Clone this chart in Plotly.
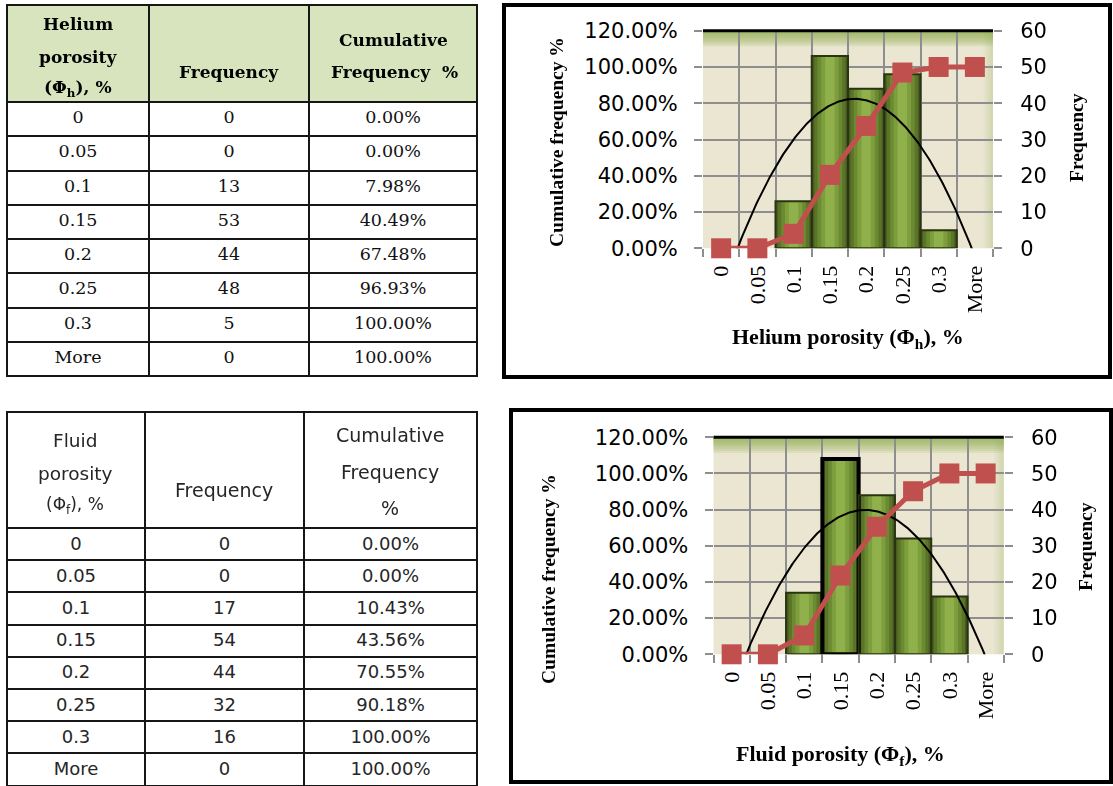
import numpy as np
import plotly.graph_objects as go

W, H = 1113, 786

# ---- data -------------------------------------------------------------
bins = ["0", "0.05", "0.1", "0.15", "0.2", "0.25", "0.3", "More"]
helium_freq = [0, 0, 13, 53, 44, 48, 5, 0]
helium_cum = [0.00, 0.00, 7.98, 40.49, 67.48, 96.93, 100.00, 100.00]
fluid_freq = [0, 0, 17, 54, 44, 32, 16, 0]
fluid_cum = [0.00, 0.00, 10.43, 43.56, 70.55, 90.18, 100.00, 100.00]

# ---- styling ----------------------------------------------------------
GRID = "#8E8E8E"
BORDER = "#161616"
RED = "#C0504D"
BAR_SHADES = [(1.0, "#4A5C21"), (0.86, "#5A7428"), (0.68, "#6B8A31"),
              (0.48, "#7D9E3C"), (0.26, "#8FB04B")]
BAR_EDGE = "#283510"
BG = "#EAE6D1"
TOP_GREEN = "#86AA45"
SANS = "DejaVu Sans"
SERIF = "Liberation Serif"


def fx(px):
    return px / W


def fy(py):
    return 1 - py / H


n = len(bins)
idx = list(range(n))
bounds = [i - 0.5 for i in range(n + 1)]

fig = go.Figure()


# ---- tables -----------------------------------------------------------
def make_table(left, right, top, bottom, colw, header_h, row_h, freq, cum,
               font, header_fill):
    return go.Table(
        domain=dict(x=[fx(left), fx(right)], y=[fy(bottom), fy(top)]),
        columnwidth=colw,
        header=dict(values=["", "", ""], height=header_h,
                    fill=dict(color=header_fill),
                    line=dict(color=BORDER, width=2)),
        cells=dict(values=[bins, freq, cum],
                   format=["", "", ".2f"], suffix=["", "", "%"],
                   height=row_h, align="center",
                   fill=dict(color="white"),
                   line=dict(color=BORDER, width=2), font=font),
    )


fig.add_trace(make_table(7, 477, 5, 378, [142, 160, 168], 97, 34.25,
                         helium_freq, helium_cum,
                         dict(family="DejaVu Serif", size=17.5, color="#111"),
                         "#D7E4BD"))
fig.add_trace(make_table(7, 477, 412, 786, [138, 159, 173], 116, 32.2,
                         fluid_freq, fluid_cum,
                         dict(family=SANS, size=18, color="#262626"),
                         "white"))


# ---- histogram charts -------------------------------------------------
def add_chart(freq, cum, xa, xa_lab, ya_f, ya_p, edge_w, edge_c):
    # bar body drawn as nested bars for a shaded cylinder look
    for w, c in BAR_SHADES:
        fig.add_trace(go.Bar(x=idx, y=freq, width=w, xaxis=xa, yaxis=ya_f,
                             marker=dict(color=c, line=dict(width=0)),
                             hoverinfo="skip", showlegend=False))
    fig.add_trace(go.Bar(x=idx, y=freq, width=1.0, xaxis=xa, yaxis=ya_f,
                         marker=dict(color="rgba(0,0,0,0)",
                                     line=dict(color=edge_c, width=edge_w)),
                         showlegend=False))
    # second-order polynomial trendline of the frequencies
    pos = np.arange(1, n + 1)
    coef = np.polyfit(pos, freq, 2)
    xs = np.linspace(0.5, n + 0.5, 300)
    fig.add_trace(go.Scatter(x=xs - 1, y=np.polyval(coef, xs), mode="lines",
                             line=dict(color="black", width=2),
                             xaxis=xa, yaxis=ya_f, hoverinfo="skip",
                             showlegend=False))
    # cumulative frequency
    fig.add_trace(go.Scatter(x=idx, y=[v / 100 for v in cum],
                             mode="lines+markers", cliponaxis=False,
                             line=dict(color=RED, width=5),
                             marker=dict(symbol="square", size=20, color=RED),
                             xaxis=xa, yaxis=ya_p, showlegend=False))
    # category labels axis
    fig.add_trace(go.Scatter(x=idx, y=freq, mode="markers", opacity=0,
                             xaxis=xa_lab, yaxis=ya_f, hoverinfo="skip",
                             showlegend=False))


h_edge = [2 if v else 0 for v in helium_freq]
f_edge = [(4 if v == max(fluid_freq) else 2) if v else 0 for v in fluid_freq]
f_edge_col = ["black" if v == max(fluid_freq) else BAR_EDGE for v in fluid_freq]

add_chart(helium_freq, helium_cum, "x", "x3", "y", "y2", h_edge, BAR_EDGE)
add_chart(fluid_freq, fluid_cum, "x2", "x4", "y3", "y4", f_edge, f_edge_col)

tick_common = dict(ticks="outside", ticklen=8, tickwidth=2, tickcolor=GRID,
                   zeroline=False, showline=False, automargin=False,
                   fixedrange=True)


def grid_x(dom, anchor):
    return dict(domain=dom, anchor=anchor, type="linear",
                range=[-0.5, n - 0.5], tickvals=bounds, showticklabels=False,
                showgrid=True, gridcolor=GRID, gridwidth=2, **tick_common)


def label_x(over, anchor):
    return dict(overlaying=over, anchor=anchor, type="linear",
                range=[-0.5, n - 0.5], tickvals=idx, ticktext=bins,
                tickangle=-90, showgrid=False, ticks="", zeroline=False,
                showline=False, ticklabelstandoff=12, automargin=False,
                fixedrange=True,
                tickfont=dict(family=SERIF, size=22, color="black"))


def freq_y(dom, anchor):
    return dict(domain=dom, anchor=anchor, side="right", range=[0, 60],
                tick0=0, dtick=10, showgrid=True, gridcolor=GRID, gridwidth=2,
                ticklabelstandoff=14,
                tickfont=dict(family=SANS, size=21, color="black"),
                **tick_common)


def pct_y(over, anchor):
    return dict(overlaying=over, anchor=anchor, side="left", range=[0, 1.2],
                tick0=0, dtick=0.2, tickformat=".2%", showgrid=False,
                ticklabelstandoff=12,
                tickfont=dict(family=SANS, size=21, color="black"),
                **tick_common)


c1_x, c1_y = [fx(703), fx(993)], [fy(248.3), fy(30.7)]
c2_x, c2_y = [fx(713.5), fx(1003.8)], [fy(654.3), fy(437.3)]

fig.update_layout(
    template="none",
    xaxis=grid_x(c1_x, "y"), xaxis3=label_x("x", "y"),
    yaxis=freq_y(c1_y, "x"), yaxis2=pct_y("y", "x"),
    xaxis2=grid_x(c2_x, "y3"), xaxis4=label_x("x2", "y3"),
    yaxis3=freq_y(c2_y, "x2"), yaxis4=pct_y("y3", "x2"),
)

# ---- decorations: plot-area shading, borders, frames ------------------
shapes = []
for xr, yr in [("x domain", "y domain"), ("x2 domain", "y3 domain")]:
    for k in range(1, 9):
        shapes.append(dict(type="rect", xref=xr, yref=yr, x0=0, x1=1,
                           y0=1 - k * 0.009, y1=1, fillcolor=TOP_GREEN,
                           opacity=0.14, line=dict(width=0), layer="below"))
    for k in range(1, 5):
        shapes.append(dict(type="rect", xref=xr, yref=yr, x0=1 - k * 0.008,
                           x1=1, y0=0, y1=1, fillcolor=TOP_GREEN,
                           opacity=0.06, line=dict(width=0), layer="below"))
    shapes.append(dict(type="line", xref=xr, yref=yr, x0=0, x1=1, y0=1, y1=1,
                       line=dict(color="black", width=3)))

for l, r, t, b in [(504, 1110, 5, 377), (511, 1111, 410, 782)]:
    shapes.append(dict(type="rect", xref="paper", yref="paper",
                       x0=fx(l), x1=fx(r), y0=fy(b), y1=fy(t),
                       line=dict(color="black", width=4)))

# ---- text: axis titles and table headings -----------------------------
ann = []


def txt(x, y, s, family, size, color="black", angle=0):
    ann.append(dict(x=fx(x), y=fy(y), xref="paper", yref="paper", text=s,
                    showarrow=False, xanchor="center", yanchor="middle",
                    textangle=angle,
                    font=dict(family=family, size=size, color=color)))


txt(556, 142, "<b>Cumulative frequency %</b>", SERIF, 19.5, angle=-90)
txt(1077, 138, "<b>Frequency</b>", SERIF, 19.5, angle=-90)
txt(848, 338, "<b>Helium porosity (Φ<sub>h</sub>), %</b>", SERIF, 22)

txt(548, 579, "<b>Cumulative frequency %</b>", SERIF, 19.5, angle=-90)
txt(1085, 547, "<b>Frequency</b>", SERIF, 19.5, angle=-90)
txt(840, 755, "<b>Fluid porosity (Φ<sub>f</sub>), %</b>", SERIF, 22)

HB = "DejaVu Serif"
txt(78, 24, "<b>Helium</b>", HB, 17)
txt(78, 57, "<b>porosity</b>", HB, 17)
txt(78, 89, "<b>(Φ<sub>h</sub>), %</b>", HB, 17)
txt(229, 72, "<b>Frequency</b>", HB, 17)
txt(393, 40, "<b>Cumulative</b>", HB, 17)
txt(394, 72, "<b>Frequency  %</b>", HB, 17)

TC = "#262626"
txt(75, 440, "Fluid", SANS, 18.5, TC)
txt(75, 473, "porosity", SANS, 18.5, TC)
txt(75, 505, "(Φ<sub>f</sub>), %", SANS, 17, TC)
txt(224, 490, "Frequency", SANS, 19, TC)
txt(390, 435, "Cumulative", SANS, 19, TC)
txt(390, 472, "Frequency", SANS, 19, TC)
txt(390, 508, "%", SANS, 19, TC)

fig.update_layout(
    width=W, height=H, margin=dict(l=0, r=0, t=0, b=0, pad=0, autoexpand=False),
    paper_bgcolor="white", plot_bgcolor=BG, barmode="overlay",
    showlegend=False, shapes=shapes, annotations=ann,
)

fig.write_html("out.html")
